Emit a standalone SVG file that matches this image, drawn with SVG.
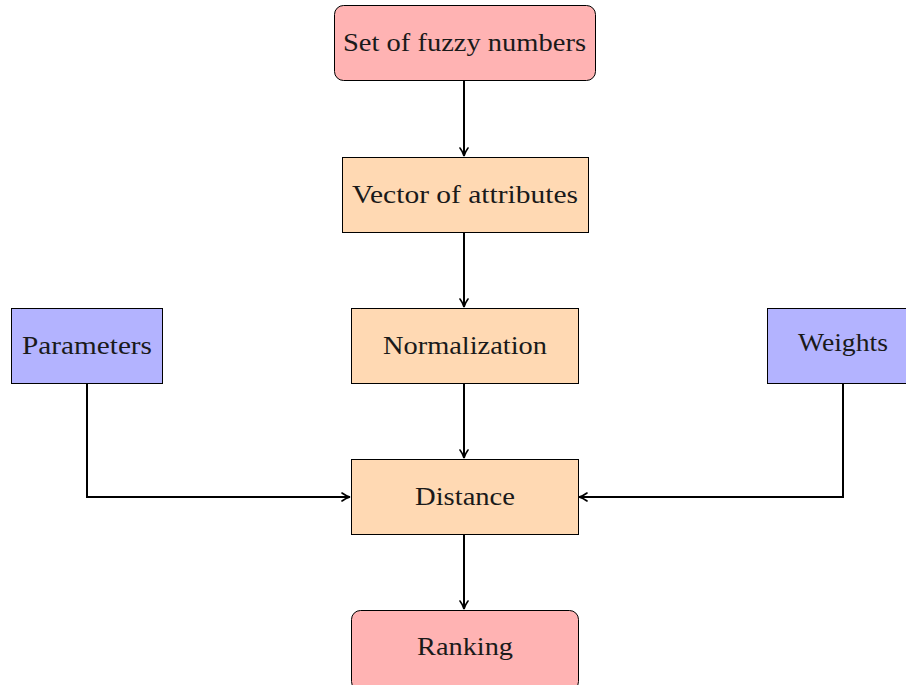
<svg xmlns="http://www.w3.org/2000/svg" width="906" height="685" viewBox="0 0 906 685">
<defs>
<marker id="arr" viewBox="0 0 10 10" refX="9" refY="5" markerWidth="10" markerHeight="10" markerUnits="userSpaceOnUse" orient="auto">
<path d="M1,1 Q5,4 9,5 Q5,6 1,9" fill="none" stroke="#000" stroke-width="1.6" stroke-linecap="round"/>
</marker>
<style>
.red{fill:#ffb3b3;stroke:#000;stroke-width:1}
.orange{fill:#ffd9b3;stroke:#000;stroke-width:1}
.blue{fill:#b3b3ff;stroke:#000;stroke-width:1}
.t{font-family:"Liberation Serif","DejaVu Serif",serif;font-size:25px;fill:#1a1a1a;text-anchor:middle}
.c{fill:none;stroke:#000;stroke-width:2;marker-end:url(#arr)}
</style>
</defs>
<g id="connectors">
<path class="c" d="M464,80 V156"/>
<path class="c" d="M464,232 V307"/>
<path class="c" d="M464,383 V458"/>
<path class="c" d="M464,534 V609"/>
<path class="c" d="M87,383 V497 H350"/>
<path class="c" d="M843,383 V497 H579"/>
</g>
<g id="fuzzy"><rect class="red" x="334.5" y="5.5" width="261" height="75" rx="9"/><text class="t" x="464.5" y="51" textLength="243" lengthAdjust="spacingAndGlyphs">Set of fuzzy numbers</text></g>
<g id="vector"><rect class="orange" x="342.5" y="157.5" width="246" height="75"/><text class="t" x="465" y="203" textLength="226" lengthAdjust="spacingAndGlyphs">Vector of attributes</text></g>
<g id="normalization"><rect class="orange" x="351.5" y="308.5" width="227" height="75"/><text class="t" x="465" y="354" textLength="164" lengthAdjust="spacingAndGlyphs">Normalization</text></g>
<g id="parameters"><rect class="blue" x="11.5" y="308.5" width="151" height="75"/><text class="t" x="87" y="354" textLength="130" lengthAdjust="spacingAndGlyphs">Parameters</text></g>
<g id="weights"><rect class="blue" x="767.5" y="308.5" width="152" height="75"/><text class="t" x="843" y="351" textLength="90" lengthAdjust="spacingAndGlyphs">Weights</text></g>
<g id="distance"><rect class="orange" x="351.5" y="459.5" width="227" height="75"/><text class="t" x="465" y="505" textLength="100" lengthAdjust="spacingAndGlyphs">Distance</text></g>
<g id="ranking"><rect class="red" x="351.5" y="610.5" width="227" height="80" rx="9"/><text class="t" x="465" y="655" textLength="96" lengthAdjust="spacingAndGlyphs">Ranking</text></g>
</svg>
